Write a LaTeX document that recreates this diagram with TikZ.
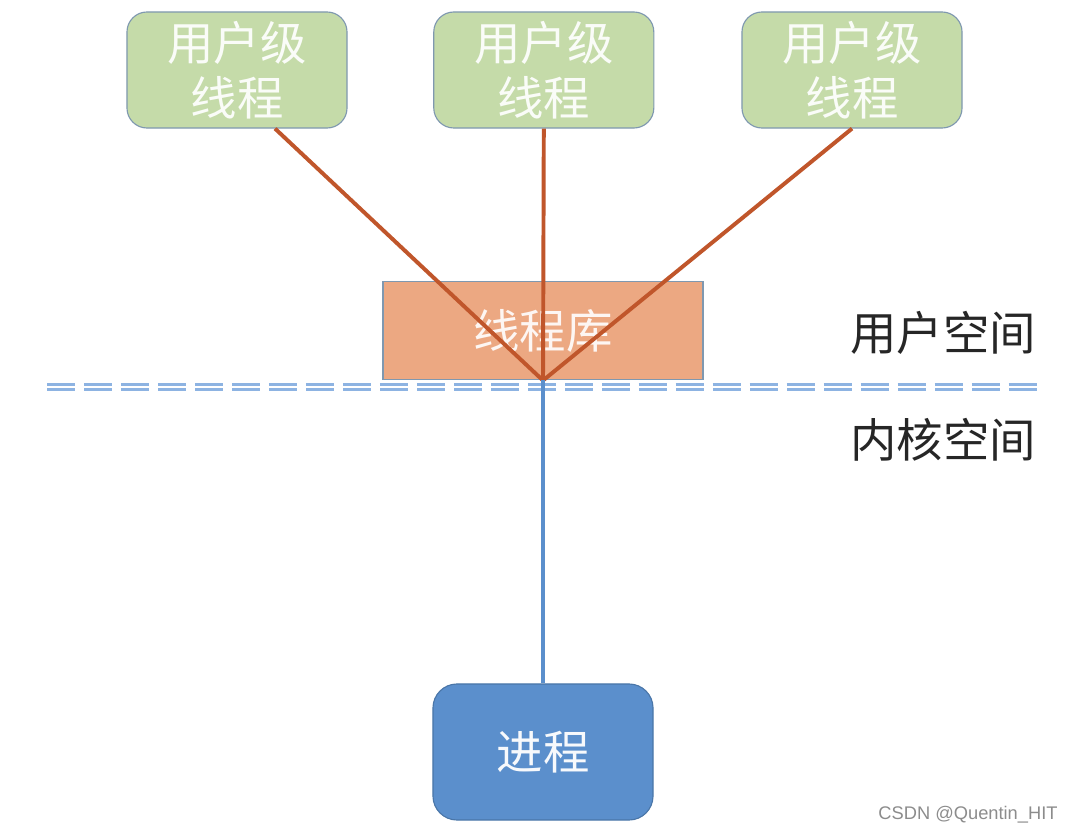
\documentclass[tikz,border=0pt]{standalone}
\usepackage{fontspec}
\usepackage{xcolor}
\setmainfont{Liberation Sans}
\newfontfamily\cjk{Noto Sans CJK SC}
\usetikzlibrary{positioning}
\usetikzlibrary{calc}

\definecolor{thrgreen}{HTML}{C5DBA9}
\definecolor{libsalmon}{HTML}{ECA882}
\definecolor{linkbrown}{HTML}{C0562B}
\definecolor{sepblue}{HTML}{8DB3E2}
\definecolor{procblue}{HTML}{5B8FCC}
\definecolor{procedge}{HTML}{4A76A8}
\definecolor{boxedge}{HTML}{7F98B0}

\begin{document}
\begin{tikzpicture}
  [
    x = 0.025cm, y = -0.025cm,
    node/.style = {rectangle, draw = boxedge, line width = 0.8pt,
                   inner sep = 0pt, align = center,
                   font = \cjk\fontsize{33}{39}\selectfont},
    thread/.style = {node, fill = thrgreen, text = white!92!thrgreen,
                     minimum width = 5.5cm, minimum height = 2.9cm,
                     rounded corners = 0.5cm},
    lib/.style = {node, fill = libsalmon, text = white!90!libsalmon,
                  minimum width = 8cm, minimum height = 2.47cm},
    proc/.style = {node, draw = procedge, fill = procblue, text = white!95!procblue,
                   minimum width = 5.5cm, minimum height = 3.4cm,
                   rounded corners = 0.6cm},
    label/.style = {font = \cjk\fontsize{33}{39}\selectfont, text = black!85},
    link/.style = {draw = linkbrown, line width = 2.8pt},
    kernel-link/.style = {draw = procblue, line width = 2.2pt},
    boundary/.style = {draw = sepblue, line width = 1.8pt, double = white,
                       double distance = 2pt,
                       dash pattern = on 19.9pt off 6.4pt},
    mark-text/.style = {font = \fontsize{13}{15}\selectfont, text = black!45},
  ]
  \useasboundingbox (0,0) rectangle (1073,834);

  % user level threads
  \node[thread] (user_thr_1) at (237,70) {用户级\\线程};
  \node[thread, right = 2.14cm of user_thr_1] (user_thr_2) {用户级\\线程};
  \node[thread, right = 2.175cm of user_thr_2] (user_thr_3) {用户级\\线程};

  % thread library and process
  \node[lib] (thr_lib) at (543,330.5) {线程库};
  \node[proc] (proc) at (543,752) {进程};

  % space labels
  \node[label] (user_space) at (943,333) {用户空间};
  \node[label] (kernel_space) at (943,440) {内核空间};

  % links into the library
  \draw[link] ([xshift = 0.95cm]user_thr_1.south) -- (thr_lib.south);
  \draw[link] (user_thr_2.south) -- (thr_lib.south);
  \draw[link] (user_thr_3.south) -- (thr_lib.south);

  % user / kernel boundary
  \coordinate (sep_left) at (47,387);
  \coordinate (sep_right) at (1040,387);
  \draw[boundary] (sep_left) -- (sep_right);

  \draw[kernel-link] (thr_lib.south) -- (proc.north);

  \node[mark-text] (watermark) at (968,815) {CSDN @Quentin\_HIT};
\end{tikzpicture}
\end{document}
